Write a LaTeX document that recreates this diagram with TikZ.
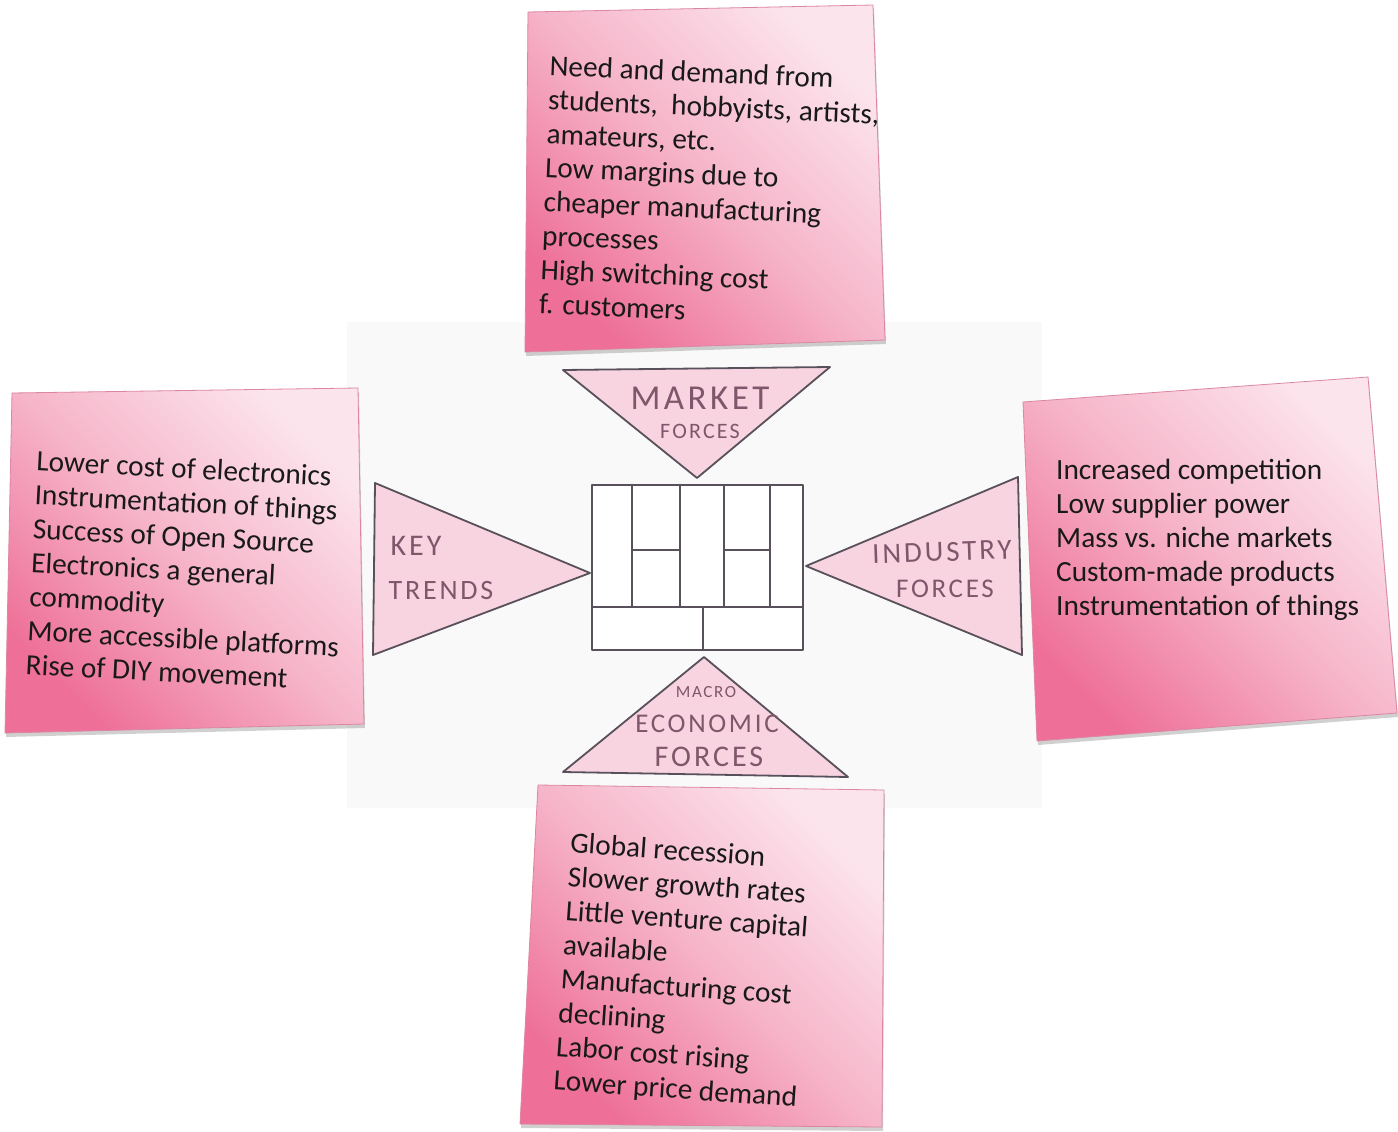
\documentclass[tikz,border=0pt]{standalone}
\usepackage{fontspec}
\setmainfont{Carlito}
\newfontfamily\handfont[LetterSpace=10]{Carlito}
\usetikzlibrary{shadows}
\definecolor{noteLight}{HTML}{FCE4EC}
\definecolor{noteMid}{HTML}{F6B4C9}
\definecolor{noteDark}{HTML}{EE7098}
\definecolor{noteEdge}{HTML}{DC86A1}
\definecolor{triFill}{HTML}{F8D4E0}
\definecolor{ink}{HTML}{58505A}
\definecolor{handInk}{HTML}{80566A}
\definecolor{paper}{HTML}{F9F9F9}
\begin{document}
\begin{tikzpicture}[x=1pt,y=-1pt,
  note/.style={draw=noteEdge, line width=0.8pt,
    top color=noteLight, bottom color=noteDark, middle color=noteMid,
    shading angle=-45,
    drop shadow={opacity=0.3, shadow xshift=1pt, shadow yshift=-4pt, fill=black!60}},
  notetext/.style={anchor=north west, inner sep=0pt, align=left,
    font=\fontsize{29.3}{34}\selectfont, text=black!90},
  sketch/.style={draw=ink, line width=1.8pt, line join=round, line cap=round},
  tri/.style={sketch, fill=triFill},
  hand/.style={text=handInk, inner sep=0pt}]

% canvas
\useasboundingbox (0,0) rectangle (1398,1132);
\fill[white] (0,0) rectangle (1398,1132);
\fill[paper] (347,322) rectangle (1042,808);

% sticky notes
\path[note] (528,12) -- (873,5) -- (885,340) -- (525,352) -- cycle;
\path[note] (12,393) -- (358,388) -- (364,724) -- (5,733) -- cycle;
\path[note] (1023,402) -- (1368,377) -- (1397,713) -- (1037,741) -- cycle;
\path[note] (538,785) -- (884,790) -- (882,1127) -- (520,1124) -- cycle;

\node[notetext, rotate=-2.5] (marketText) at (550,55) {Need and demand from\\
students,\ \ hobbyists, artists,\\
amateurs, etc.\\
Low margins due to\\
cheaper manufacturing\\
processes\\
High switching cost\\
f. customers};

\node[notetext, rotate=-3] (trendsText) at (37,450) {Lower cost of electronics\\
Instrumentation of things\\
Success of Open Source\\
Electronics a general\\
commodity\\
More accessible platforms\\
Rise of DIY movement};

\node[notetext] (industryText) at (1056,459) {Increased competition\\
Low supplier power\\
Mass vs. niche markets\\
Custom-made products\\
Instrumentation of things};

\node[notetext, rotate=-4] (macroText) at (571,832) {Global recession\\
Slower growth rates\\
Little venture capital\\
available\\
Manufacturing cost\\
declining\\
Labor cost rising\\
Lower price demand};

% force triangles
\draw[tri] (563,370) -- (830,367) -- (697,478) -- cycle;
\draw[tri] (375,483) -- (590,573) -- (373,655) -- cycle;
\draw[tri] (1018,477) -- (1022,655) -- (806,566) -- cycle;
\draw[tri] (704,657) -- (848,777) -- (563,772) -- cycle;

% business model canvas sketch
\draw[sketch, fill=white] (592,485) rectangle (803,650);
\foreach \x in {632,680,724,770} \draw[sketch] (\x,485) -- (\x,607);
\draw[sketch] (592,607) -- (803,607);
\draw[sketch] (703,607) -- (703,650);
\draw[sketch] (632,550) -- (680,550);
\draw[sketch] (724,550) -- (770,550);

% hand-lettered labels
\node[hand, font=\handfont\fontsize{35}{35}\selectfont] (marketA) at (700,398) {MARKET};
\node[hand, font=\handfont\fontsize{22}{22}\selectfont] (marketB) at (700,431) {FORCES};
\node[hand, font=\handfont\fontsize{30}{30}\selectfont] (keyA) at (416,546) {KEY};
\node[hand, font=\handfont\fontsize{28}{28}\selectfont] (keyB) at (441,591) {TRENDS};
\node[hand, font=\handfont\fontsize{29}{29}\selectfont, rotate=2] (indA) at (942,552) {INDUSTRY};
\node[hand, font=\handfont\fontsize{27}{27}\selectfont] (indB) at (945,589) {FORCES};
\node[hand, font=\handfont\fontsize{17}{17}\selectfont] (macA) at (706,692) {MACRO};
\node[hand, font=\handfont\fontsize{27}{27}\selectfont] (macB) at (707,724) {ECONOMIC};
\node[hand, font=\handfont\fontsize{30}{30}\selectfont] (macC) at (709,757) {FORCES};
\end{tikzpicture}
\end{document}
